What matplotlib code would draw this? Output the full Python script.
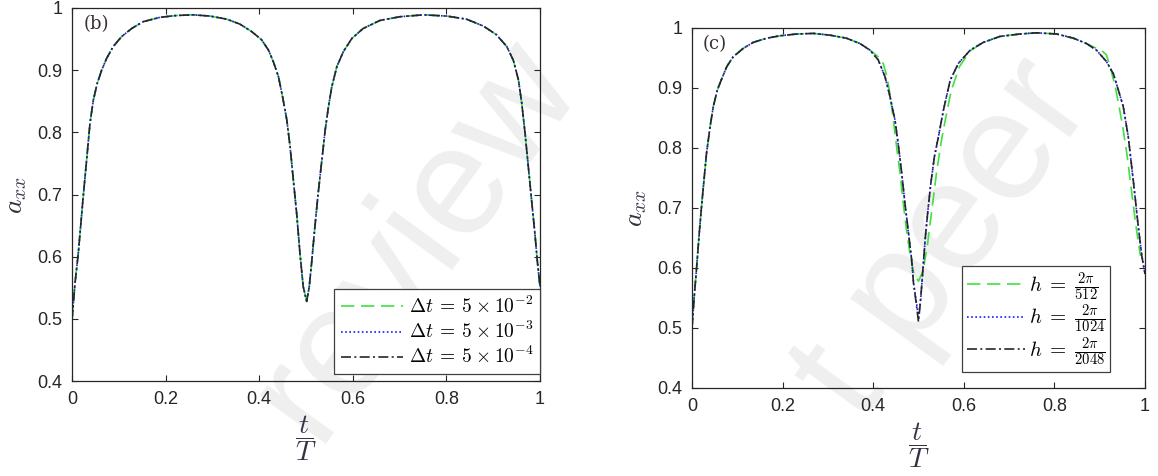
import matplotlib
matplotlib.use("Agg")
import matplotlib.pyplot as plt

plt.rcParams['font.family'] = ['Liberation Sans', 'DejaVu Sans']
plt.rcParams['mathtext.fontset'] = 'cm'

# ---------------- data: panel (b) ----------------
t_b = [0, 0.0064, 0.0135, 0.024, 0.0313, 0.0385, 0.0456, 0.054, 0.0634, 0.074, 0.088,
       0.106, 0.1275, 0.152, 0.188, 0.224, 0.259, 0.295, 0.331, 0.359, 0.384, 0.405,
       0.420, 0.430, 0.441, 0.450, 0.459, 0.466, 0.473, 0.480, 0.487, 0.494, 0.5015,
       0.507, 0.512, 0.519, 0.526, 0.534, 0.541, 0.548, 0.555, 0.566, 0.580, 0.598,
       0.622, 0.658, 0.701, 0.751, 0.801, 0.843, 0.879, 0.907, 0.929, 0.943, 0.954,
       0.961, 0.968, 0.975, 0.982, 0.989, 0.994, 1.0]
a_b_dt2 = [0.498, 0.557, 0.606, 0.697, 0.756, 0.815, 0.852, 0.879, 0.900, 0.919, 0.938,
           0.954, 0.967, 0.978, 0.985, 0.988, 0.989, 0.987, 0.982, 0.974, 0.962, 0.949,
           0.932, 0.914, 0.890, 0.857, 0.820, 0.777, 0.723, 0.670, 0.606, 0.552, 0.528,
           0.552, 0.590, 0.648, 0.702, 0.756, 0.804, 0.841, 0.873, 0.906, 0.930, 0.951,
           0.967, 0.980, 0.986, 0.989, 0.987, 0.982, 0.971, 0.957, 0.938, 0.916, 0.884,
           0.847, 0.799, 0.745, 0.691, 0.638, 0.595, 0.552]
a_b_dt3 = list(a_b_dt2)   # the three curves coincide in the figure
a_b_dt4 = list(a_b_dt2)
labels_b = [r'$\Delta t\:=\:5\:\times\:10^{-2}$', r'$\Delta t\:=\:5\:\times\:10^{-3}$',
            r'$\Delta t\:=\:5\:\times\:10^{-4}$']

# ---------------- data: panel (c) ----------------
t_c = [0, 0.0044, 0.0103, 0.016, 0.021, 0.0265, 0.032, 0.040, 0.047, 0.056, 0.066, 0.077,
       0.091, 0.113, 0.135, 0.165, 0.194, 0.231, 0.268, 0.305, 0.341, 0.371, 0.393, 0.411,
       0.426, 0.437, 0.448, 0.456, 0.463, 0.470, 0.478, 0.485, 0.489, 0.495, 0.500,
       0.505, 0.510, 0.515, 0.520, 0.527, 0.535, 0.544, 0.555, 0.570, 0.588, 0.614,
       0.643, 0.680, 0.724, 0.761, 0.805, 0.842, 0.871, 0.893, 0.915, 0.930, 0.941,
       0.952, 0.963, 0.975, 0.985, 0.993, 1.0]
a_c_2048 = [0.50, 0.547, 0.602, 0.658, 0.702, 0.747, 0.791, 0.836, 0.869, 0.897, 0.916,
            0.936, 0.952, 0.966, 0.976, 0.983, 0.987, 0.990, 0.991, 0.988, 0.983, 0.974,
            0.963, 0.947, 0.919, 0.886, 0.847, 0.802, 0.758, 0.708, 0.658, 0.613, 0.574,
            0.541, 0.510, 0.55, 0.60, 0.65, 0.69, 0.74, 0.785, 0.819, 0.863, 0.913, 0.941,
            0.963, 0.976, 0.986, 0.990, 0.992, 0.990, 0.983, 0.974, 0.963, 0.944, 0.924,
            0.897, 0.869, 0.819, 0.74, 0.67, 0.62, 0.59]
a_c_1024 = [0.50, 0.547, 0.602, 0.658, 0.702, 0.747, 0.791, 0.836, 0.869, 0.897, 0.916,
            0.936, 0.952, 0.966, 0.976, 0.983, 0.987, 0.990, 0.991, 0.988, 0.983, 0.974,
            0.963, 0.947, 0.919, 0.886, 0.847, 0.802, 0.758, 0.708, 0.658, 0.613, 0.576,
            0.545, 0.518, 0.55, 0.60, 0.65, 0.69, 0.74, 0.785, 0.819, 0.863, 0.913, 0.941,
            0.963, 0.976, 0.986, 0.990, 0.992, 0.990, 0.983, 0.974, 0.963, 0.944, 0.924,
            0.897, 0.869, 0.819, 0.74, 0.67, 0.62, 0.59]
t_c_512 = [0, 0.0044, 0.0103, 0.016, 0.021, 0.0265, 0.032, 0.040, 0.047, 0.056, 0.066,
           0.077, 0.091, 0.113, 0.135, 0.165, 0.194, 0.231, 0.268, 0.305, 0.341, 0.371,
           0.393, 0.411, 0.422, 0.430, 0.437, 0.444, 0.452, 0.459, 0.466, 0.474, 0.482,
           0.490, 0.500, 0.510, 0.520, 0.530, 0.540, 0.550, 0.560, 0.572, 0.590, 0.614,
           0.643, 0.680, 0.724, 0.761, 0.805, 0.842, 0.871, 0.893, 0.905, 0.915, 0.925,
           0.935, 0.945, 0.952, 0.960, 0.970, 0.980, 0.990]
a_c_512 = [0.50, 0.547, 0.602, 0.658, 0.702, 0.747, 0.791, 0.836, 0.869, 0.897, 0.916,
           0.936, 0.952, 0.966, 0.976, 0.983, 0.987, 0.990, 0.991, 0.988, 0.983, 0.974,
           0.963, 0.952, 0.941, 0.920, 0.890, 0.850, 0.800, 0.760, 0.710, 0.660, 0.620,
           0.590, 0.578, 0.595, 0.640, 0.700, 0.760, 0.810, 0.850, 0.895, 0.935, 0.962,
           0.976, 0.986, 0.990, 0.992, 0.990, 0.983, 0.974, 0.966, 0.962, 0.955, 0.930,
           0.900, 0.860, 0.830, 0.790, 0.730, 0.670, 0.620]
labels_c = [r'$h\;=\;\frac{2\pi}{512}$', r'$h\;=\;\frac{2\pi}{1024}$',
            r'$h\;=\;\frac{2\pi}{2048}$']

xticks = [0, 0.2, 0.4, 0.6, 0.8, 1]
xticklabels = ['0', '0.2', '0.4', '0.6', '0.8', '1']
yticks = [0.4, 0.5, 0.6, 0.7, 0.8, 0.9, 1]
yticklabels = ['0.4', '0.5', '0.6', '0.7', '0.8', '0.9', '1']

GREEN = '#3fe03f'
BLUE = '#1a1aff'
BLACK = '#262626'
GREY = '#262626'
GREEN_LS = (0, (8, 4))
BLUE_LS = (0, (1, 1.5))
BLACK_LS = (0, (6, 2, 1.2, 2))

W, H = 1158, 476
fig = plt.figure(figsize=(W / 100, H / 100), dpi=100)

# watermark (behind everything)
wm_kw = dict(color='#efefef', fontsize=112, rotation=54, ha='center', va='center',
             family='Liberation Sans', zorder=-10)
fig.text(415 / W, 1 - 238 / H, 'review', **wm_kw)
fig.text(945 / W, 1 - 240 / H, 't peer', **wm_kw)


def make_axes(rect, label):
    ax = fig.add_axes(rect)
    ax.set_facecolor('none')
    ax.set_xlim(0, 1)
    ax.set_ylim(0.4, 1)
    ax.set_xticks(xticks)
    ax.set_xticklabels(xticklabels)
    ax.set_yticks(yticks)
    ax.set_yticklabels(yticklabels)
    ax.tick_params(direction='in', length=4, width=0.8, top=True, right=True,
                   labelsize=13, colors=GREY, pad=7)
    for s in ax.spines.values():
        s.set_color(GREY)
        s.set_linewidth(0.9)
    ax.set_ylabel(r'$a_{xx}$', fontsize=20, color='#333344', labelpad=6)
    ax.set_xlabel(r'$\dfrac{t}{T}$', fontsize=20, color='#333344', labelpad=4)
    ax.text(0.024, 0.98, label, transform=ax.transAxes, ha='left', va='top',
            fontsize=13, family='DejaVu Serif', color='#3a3030')
    return ax


# panel (b)
axb = make_axes([72 / W, 1 - 381 / H, 468 / W, 373 / H], '(b)')
axb.plot(t_b, a_b_dt2, color=GREEN, lw=1.2, ls=GREEN_LS, label=labels_b[0])
axb.plot(t_b, a_b_dt3, color=BLUE, lw=1.2, ls=BLUE_LS, label=labels_b[1])
axb.plot(t_b, a_b_dt4, color=BLACK, lw=1.2, ls=BLACK_LS, label=labels_b[2])
axb.legend(loc='lower right', bbox_to_anchor=(1.0, 0.018), borderaxespad=0,
           fontsize=14, fancybox=False, framealpha=1, edgecolor='#404040',
           handlelength=3.2, handletextpad=0.3, labelspacing=0.2,
           borderpad=0.35).get_frame().set_linewidth(0.9)

# panel (c)
axc = make_axes([692 / W, 1 - 388 / H, 453 / W, 360 / H], '(c)')
axc.plot(t_c_512, a_c_512, color=GREEN, lw=1.2, ls=GREEN_LS, label=labels_c[0])
axc.plot(t_c, a_c_1024, color=BLUE, lw=1.2, ls=BLUE_LS, label=labels_c[1])
axc.plot(t_c, a_c_2048, color=BLACK, lw=1.2, ls=BLACK_LS, label=labels_c[2])
axc.legend(loc='lower right', bbox_to_anchor=(0.923, 0.044), borderaxespad=0,
           fontsize=15, fancybox=False, framealpha=1, edgecolor='#404040',
           handlelength=2.8, handletextpad=0.2, labelspacing=0.0,
           borderpad=0.2).get_frame().set_linewidth(0.9)

fig.savefig('out.png', dpi=100)
